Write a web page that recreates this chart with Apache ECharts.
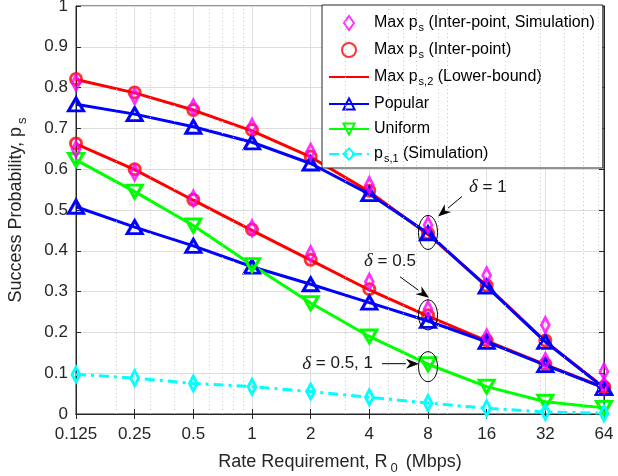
<!DOCTYPE html>
<html>
<head>
<meta charset="utf-8">
<script src="https://cdn.jsdelivr.net/npm/echarts@6/dist/echarts.min.js"></script>
<style>
  html, body { margin: 0; padding: 0; background: #fff; }
  #main { width: 618px; height: 476px; }
</style>
</head>
<body>
<div id="main"></div>
<script>
// rate requirement R0 (Mbps), one point per rate
const rates = [0.125, 0.25, 0.5, 1, 2, 4, 8, 16, 32, 64];
// minor (dotted) grid lines, log10 style
const minorTicks = [0.2, 0.3, 0.4, 0.6, 0.7, 0.8, 0.9, 3, 5, 6, 7, 9, 10, 20, 30, 40, 50, 60];

// delta = 1
const simUpper = [0.812, 0.779, 0.752, 0.704, 0.643, 0.561, 0.463, 0.340, 0.218, 0.104];
const ipUpper = [0.821, 0.788, 0.745, 0.696, 0.631, 0.547, 0.443, 0.315, 0.180, 0.066];
const lbUpper = [0.820, 0.787, 0.745, 0.694, 0.630, 0.545, 0.440, 0.314, 0.178, 0.065];
const popUpper = [0.759, 0.735, 0.704, 0.666, 0.614, 0.539, 0.443, 0.312, 0.177, 0.064];
// delta = 0.5
const simLower = [0.649, 0.592, 0.528, 0.455, 0.392, 0.324, 0.257, 0.188, 0.130, 0.071];
const ipLower = [0.663, 0.600, 0.525, 0.452, 0.378, 0.306, 0.242, 0.180, 0.122, 0.066];
const lbLower = [0.662, 0.599, 0.524, 0.450, 0.377, 0.304, 0.240, 0.179, 0.121, 0.065];
const popLower = [0.508, 0.458, 0.412, 0.361, 0.318, 0.273, 0.228, 0.177, 0.120, 0.064];
// same for both deltas
const uniform = [0.623, 0.545, 0.462, 0.365, 0.272, 0.190, 0.122, 0.067, 0.030, 0.015];
const ps1Sim = [0.097, 0.088, 0.075, 0.067, 0.055, 0.041, 0.027, 0.014, 0.005, 0.002];

// where the circled points sit at R0 = 8
const circledY = [0.445, 0.243, 0.116];

const FONT = '"Liberation Sans", Arial, Helvetica, sans-serif';
const AXIS = '#262626';

const legendText = {
  sim: '{t|Max p}{sub|s}{t| (Inter-point, Simulation)}',
  ip: '{t|Max p}{sub|s}{t| (Inter-point)}',
  lb: '{t|Max p}{sub|s,2}{t| (Lower-bound)}',
  pop: '{t|Popular}',
  uni: '{t|Uniform}',
  ps1: '{t|p}{sub|s,1}{t| (Simulation)}',
};

const pair = (ys) => rates.map((r, i) => [r, ys[i]]);
const downTri = 'path://M0,0 L10,0 L5,9 Z';
const tallDiamond = 'path://M5,0 L10,7 L5,14 L0,7 Z';

function lbSeries(ys) {
  return {
    name: 'lb', type: 'line', data: pair(ys), symbol: 'none', z: 2,
    lineStyle: { color: '#ff0000', width: 3 },
    itemStyle: { color: '#ff0000' },
  };
}
function ipSeries(ys) {
  return {
    name: 'ip', type: 'scatter', data: pair(ys), symbol: 'circle', symbolSize: 11, z: 3,
    itemStyle: { color: 'rgba(0,0,0,0)', borderColor: '#ff0000', borderWidth: 3 },
  };
}
function popSeries(ys) {
  return {
    name: 'pop', type: 'line', data: pair(ys), symbol: 'triangle', symbolSize: [15, 13], z: 4,
    showAllSymbol: true,
    lineStyle: { color: '#0000ff', width: 3 },
    itemStyle: { color: 'rgba(0,0,0,0)', borderColor: '#0000ff', borderWidth: 3 },
  };
}
function simSeries(ys) {
  return {
    name: 'sim', type: 'scatter', data: pair(ys), symbol: tallDiamond, symbolSize: [11, 15],
    symbolKeepAspect: true, z: 6,
    itemStyle: { color: 'rgba(0,0,0,0)', borderColor: '#ff00ff', borderWidth: 3 },
  };
}

const chart = echarts.init(document.getElementById('main'), null, { renderer: 'canvas' });

const option = {
  animation: false,
  backgroundColor: '#ffffff',
  textStyle: { fontFamily: FONT },
  grid: {
    left: 76, right: 14, top: 6, bottom: 62, show: true, borderColor: AXIS, borderWidth: 1,
    outerBoundsMode: 'none', containLabel: false,
  },
  legend: {
    data: [
      'sim', 'ip',
      { name: 'lb', itemStyle: { opacity: 0 } },
      'pop', 'uni', 'ps1',
    ],
    orient: 'vertical',
    left: 322, top: 5,
    padding: [10, 8, 4, 6],
    itemWidth: 40, itemHeight: 14, itemGap: 9,
    backgroundColor: '#ffffff', borderColor: AXIS, borderWidth: 1, borderRadius: 0,
    formatter: (name) => legendText[name],
    textStyle: {
      color: '#000', fontFamily: FONT, fontSize: 16,
      rich: {
        t: { fontSize: 16, fontFamily: FONT, color: '#000' },
        sub: { fontSize: 11, fontFamily: FONT, color: '#000', verticalAlign: 'bottom', padding: [9, 0, 0, 1] },
      },
    },
  },
  xAxis: [
    {
      type: 'log', logBase: 2, min: 0.125, max: 64, splitNumber: 9,
      name: 'Rate Requirement, R{sub|0} (Mbps)',
      nameLocation: 'middle', nameGap: 36,
      nameTextStyle: {
        fontSize: 18, color: AXIS, fontFamily: FONT,
        rich: { sub: { fontSize: 13, color: AXIS, fontFamily: FONT, verticalAlign: 'bottom', padding: [12, 3, 0, 3] } },
      },
      axisLine: { lineStyle: { color: AXIS, width: 1 } },
      axisTick: { inside: true, length: 5, lineStyle: { color: AXIS } },
      axisLabel: { color: AXIS, fontSize: 17, margin: 12, formatter: (v) => String(+v.toPrecision(6)) },
      splitLine: { show: true, lineStyle: { color: '#dedede', width: 1 } },
      minorTick: { show: false },
    },
    {
      type: 'log', logBase: 2, min: 0.125, max: 64, splitNumber: 9, position: 'top',
      axisLine: { lineStyle: { color: AXIS } },
      axisTick: { inside: true, length: 5, lineStyle: { color: AXIS } },
      axisLabel: { show: false }, splitLine: { show: false },
    },
  ],
  yAxis: [
    {
      type: 'value', min: 0, max: 1, interval: 0.1,
      name: 'Success Probability, p{sub|s}',
      nameLocation: 'middle', nameGap: 47,
      nameTextStyle: {
        fontSize: 18, color: AXIS, fontFamily: FONT,
        rich: { sub: { fontSize: 13, color: AXIS, fontFamily: FONT, verticalAlign: 'bottom', padding: [12, 0, 0, 3] } },
      },
      axisLine: { show: true, lineStyle: { color: AXIS, width: 1 } },
      axisTick: { show: true, inside: true, length: 5, lineStyle: { color: AXIS } },
      axisLabel: { color: AXIS, fontSize: 17, margin: 8, formatter: (v) => String(+v.toFixed(1)) },
      splitLine: { show: true, lineStyle: { color: '#dedede', width: 1 } },
    },
    {
      type: 'value', min: 0, max: 1, interval: 0.1, position: 'right',
      axisLine: { show: true, lineStyle: { color: AXIS } },
      axisTick: { show: true, inside: true, length: 5, lineStyle: { color: AXIS } },
      axisLabel: { show: false }, splitLine: { show: false },
    },
  ],
  series: [
    {
      // dotted minor grid
      name: 'minor', type: 'line', data: [], silent: true, z: 1,
      markLine: {
        silent: true, symbol: 'none', label: { show: false },
        lineStyle: { color: '#c4c4c4', type: [1, 3], width: 1 },
        data: minorTicks.map((v) => ({ xAxis: v })),
      },
    },
    lbSeries(lbUpper),
    lbSeries(lbLower),
    ipSeries(ipUpper),
    ipSeries(ipLower),
    popSeries(popUpper),
    popSeries(popLower),
    {
      name: 'uni', type: 'line', data: pair(uniform), symbol: downTri, symbolSize: [15, 13], z: 4,
      lineStyle: { color: '#00ff00', width: 3 },
      itemStyle: { color: 'rgba(0,0,0,0)', borderColor: '#00ff00', borderWidth: 3 },
    },
    {
      name: 'ps1', type: 'line', data: pair(ps1Sim), symbol: tallDiamond, symbolSize: [11, 15],
      symbolKeepAspect: true, z: 5,
      lineStyle: { color: '#00ffff', width: 3, type: [10, 5, 3, 5] },
      itemStyle: { color: 'rgba(0,0,0,0)', borderColor: '#00ffff', borderWidth: 3 },
    },
    simSeries(simUpper),
    simSeries(simLower),
  ],
};

chart.setOption(option);

// annotations: ellipses around the points at R0 = 8, with labelled arrows
function arrow(x1, y1, x2, y2) {
  const ang = Math.atan2(y2 - y1, x2 - x1);
  const len = 13, half = 5;
  const bx = x2 - len * Math.cos(ang), by = y2 - len * Math.sin(ang);
  const nx = -Math.sin(ang), ny = Math.cos(ang);
  return [
    { type: 'line', shape: { x1: x1, y1: y1, x2: bx, y2: by }, style: { stroke: '#000', lineWidth: 1 }, z: 20 },
    {
      type: 'polygon', z: 20,
      shape: { points: [[x2, y2], [bx + nx * half, by + ny * half], [x2 - (len - 4) * Math.cos(ang), y2 - (len - 4) * Math.sin(ang)], [bx - nx * half, by - ny * half]] },
      style: { fill: '#000' },
    },
  ];
}
function ellipse(cx, cy, ry) {
  return { type: 'ellipse', shape: { cx: cx, cy: cy, rx: 9.5, ry: ry }, style: { fill: 'none', stroke: '#000', lineWidth: 1 }, z: 20 };
}
function label(txt, x, y, align) {
  return {
    type: 'text', x: x, y: y, z: 20,
    style: {
      text: txt, align: align, verticalAlign: 'middle', fill: '#1a1a1a', font: '17px ' + FONT,
      rich: { d: { fontFamily: '"Liberation Serif", "DejaVu Serif", serif', fontStyle: 'italic', fontSize: 19, fill: '#1a1a1a' } },
    },
  };
}

const [p1, p2, p3] = circledY.map((y) => chart.convertToPixel({ xAxisIndex: 0, yAxisIndex: 0 }, [8, y]));
const graphics = [
  ellipse(p1[0], p1[1], 17),
  ...arrow(p1[0] + 34, p1[1] - 36, p1[0] + 10, p1[1] - 16),
  label('{d|δ} = 1', p1[0] + 41, p1[1] - 45, 'left'),
  ellipse(p2[0], p2[1], 15),
  ...arrow(p2[0] - 28, p2[1] - 38, p2[0] + 1, p2[1] - 17),
  label('{d|δ} = 0.5', p2[0] - 64, p2[1] - 54, 'left'),
  ellipse(p3[0], p3[1], 15),
  ...arrow(p3[0] - 46, p3[1] - 3, p3[0] - 9, p3[1] - 3),
  label('{d|δ} = 0.5, 1', p3[0] - 55, p3[1] - 3, 'right'),
];
chart.setOption({ graphic: graphics });
</script>
</body>
</html>
